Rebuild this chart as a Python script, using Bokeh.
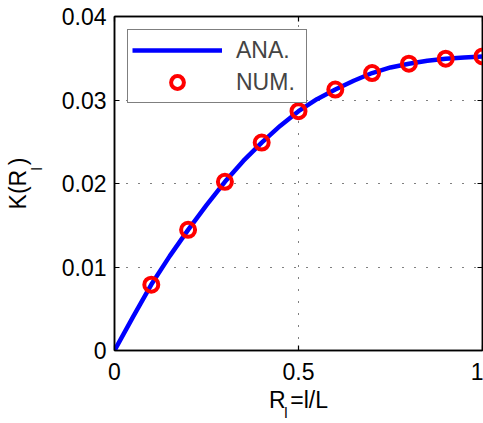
from bokeh.plotting import figure
from bokeh.models import Range1d, FixedTicker, LinearAxis, Legend, LegendItem
from bokeh.embed import file_html
from bokeh.resources import INLINE

# ---- data ----
ana_x = [0.0, 0.05, 0.1, 0.15, 0.2, 0.25, 0.3, 0.35, 0.4, 0.45, 0.5,
         0.55, 0.6, 0.65, 0.7, 0.75, 0.8, 0.85, 0.9, 0.95, 1.0]
ana_y = [0.0, 0.0040, 0.0079, 0.0113, 0.01445, 0.0174, 0.0202, 0.0227, 0.0249, 0.0269, 0.02866,
         0.0301, 0.03125, 0.0323, 0.03323, 0.0339, 0.03435, 0.0347, 0.03495, 0.0351, 0.03522]
num_x = [0.1, 0.2, 0.3, 0.4, 0.5, 0.6, 0.7, 0.8, 0.9, 1.0]
num_y = [0.00788, 0.01445, 0.0202, 0.0249, 0.02866, 0.03125, 0.03323, 0.03435, 0.03495, 0.03522]

x_ticks = [0, 0.5, 1]
x_tick_labels = ["0", "0.5", "1"]
y_ticks = [0, 0.01, 0.02, 0.03, 0.04]
y_tick_labels = ["0", "0.01", "0.02", "0.03", "0.04"]
x_grid = [0.5]
y_grid = [0.01, 0.02, 0.03]

# axis titles: main text and its subscript "l"
x_title_main = "R\u2009=l/L"
y_title_main = "K(R\u2009)"
subscript = "l"
NB = "\u00a0"

FONT = "Liberation Sans"
FS = "23px"
SUB_FS = "15px"

p = figure(width=483, height=423, output_backend="svg", toolbar_location=None,
           x_range=Range1d(0, 1), y_range=Range1d(0, 0.04),
           min_border_left=114, min_border_right=1, min_border_top=16, min_border_bottom=72,
           background_fill_color="white", border_fill_color="white")
p.outline_line_color = "black"
p.outline_line_width = 1.5


def style_axis(ax, labels):
    ax.axis_line_color = "black"
    ax.axis_line_width = 1.5
    ax.major_tick_in = 5
    ax.major_tick_out = 0
    ax.major_tick_line_color = "black"
    ax.major_tick_line_width = 1.2
    ax.minor_tick_line_color = None
    ax.major_label_text_font = FONT
    ax.major_label_text_color = "black"
    ax.axis_label_text_font = FONT
    ax.axis_label_text_font_style = "normal"
    ax.axis_label_text_color = "black"
    if labels:
        ax.major_label_text_font_size = FS
    else:
        ax.major_label_text_font_size = "1px"
        ax.major_label_text_color = None
        ax.major_label_standoff = 0


def holder_axis(ax):
    # an axis used only to carry part of an axis title
    ax.ticker = FixedTicker(ticks=[])
    ax.axis_line_color = None
    ax.major_tick_line_color = None
    ax.minor_tick_line_color = None
    ax.major_tick_in = 0
    ax.major_tick_out = 0
    ax.major_label_standoff = 0
    ax.axis_label_text_font = FONT
    ax.axis_label_text_font_style = "normal"
    ax.axis_label_text_color = "black"


xa = p.xaxis[0]
ya = p.yaxis[0]
style_axis(xa, True)
style_axis(ya, True)
xa.ticker = FixedTicker(ticks=x_ticks)
ya.ticker = FixedTicker(ticks=y_ticks)
xa.major_label_overrides = {t: s for t, s in zip(x_ticks, x_tick_labels)}
ya.major_label_overrides = {t: s for t, s in zip(y_ticks, y_tick_labels)}
xa.major_label_standoff = 12
ya.major_label_standoff = 8

# x title: main text on the x axis, subscript on an outer holder axis
xa.axis_label = x_title_main
xa.axis_label_text_font_size = FS
xa.axis_label_standoff = 4
xs = LinearAxis()
holder_axis(xs)
xs.axis_label = subscript + NB * 6
xs.axis_label_text_font_size = SUB_FS
xs.axis_label_standoff = -12
p.add_layout(xs, "below")

# y title: subscript on the y axis, main text on an outer holder axis
ya.axis_label = NB * 7 + subscript
ya.axis_label_text_font_size = SUB_FS
ya.axis_label_standoff = 14
ys = LinearAxis()
holder_axis(ys)
ys.axis_label = y_title_main
ys.axis_label_text_font_size = FS
ys.axis_label_standoff = -6
p.add_layout(ys, "left")

top = LinearAxis(ticker=FixedTicker(ticks=x_ticks))
right = LinearAxis(ticker=FixedTicker(ticks=y_ticks))
style_axis(top, False)
style_axis(right, False)
p.add_layout(top, "above")
p.add_layout(right, "right")

p.xgrid.ticker = FixedTicker(ticks=x_grid)
p.ygrid.ticker = FixedTicker(ticks=y_grid)
for g in (p.xgrid[0], p.ygrid[0]):
    g.grid_line_color = "black"
    g.grid_line_width = 1
    g.grid_line_dash = "1 11"

r_ana = p.line(ana_x, ana_y, line_color="#0000ff", line_width=4.5)
r_num = p.scatter(num_x, num_y, marker="circle", size=14, fill_color=None,
                  line_color="#ff0000", line_width=4)

legend = Legend(items=[LegendItem(label="ANA.", renderers=[r_ana]),
                       LegendItem(label="NUM.", renderers=[r_num])],
                location="top_left", margin=13, padding=4, spacing=0,
                glyph_width=90, glyph_height=32, label_standoff=14,
                label_width=66, label_height=32,
                label_text_font=FONT, label_text_font_size=FS,
                border_line_color="black", border_line_width=1.5,
                background_fill_color="white", background_fill_alpha=1)
p.add_layout(legend, "center")

open("out.html", "w").write(file_html(p, INLINE))
